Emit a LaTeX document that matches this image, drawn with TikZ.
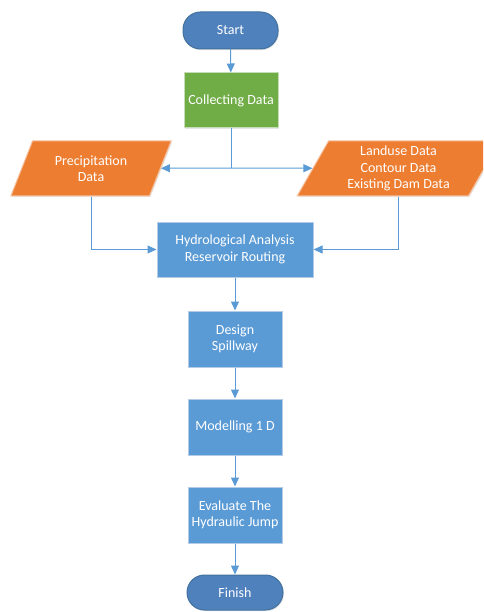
\documentclass[tikz,border=0pt]{standalone}
\usepackage{fontspec}
\setmainfont{Carlito}
\usetikzlibrary{shapes.geometric,arrows.meta,shadows}
\definecolor{startblue}{HTML}{4F81BD}
\definecolor{startedge}{HTML}{41719C}
\definecolor{procblue}{HTML}{5B9BD5}
\definecolor{procedge}{HTML}{B4CBE8}
\definecolor{greenbox}{HTML}{70AD47}
\definecolor{greenedge}{HTML}{C5DDB5}
\definecolor{orangebox}{HTML}{ED7D31}
\definecolor{orangeedge}{HTML}{F5C2A0}
\definecolor{arrowblue}{HTML}{5B9BD5}
\tikzset{
  base/.style={text=white, font=\fontsize{14}{16.5}\selectfont, align=center, inner sep=0pt, line width=1pt,
    drop shadow={opacity=0.2, shadow xshift=1pt, shadow yshift=-1.2pt}},
  terminal/.style={base, draw=startedge, fill=startblue, rounded corners=17.5pt},
  procbox/.style={base, draw=procedge, fill=procblue},
  greenproc/.style={base, draw=greenedge, fill=greenbox},
  datashape/.style={base, draw=orangeedge, fill=orangebox, trapezium, trapezium stretches=true,
    trapezium left angle=63, trapezium right angle=117},
  conn/.style={draw=arrowblue, line width=1pt, -{Triangle[length=9pt,width=8pt]}},
  plainconn/.style={draw=arrowblue, line width=1pt},
}
\begin{document}
\begin{tikzpicture}[x=1pt,y=-1pt]
\clip (0,0) rectangle (483,612);
\useasboundingbox (0,0) rectangle (483,612);
\node[terminal, minimum width=95pt, minimum height=37pt] (start) at (230.5,30.5) {Start};
\node[greenproc, minimum width=94pt, minimum height=55pt] (collect) at (231,100.5) {Collecting Data};
\coordinate (junc) at (231,168);
\node[datashape, minimum width=162pt, minimum height=55pt] (prec) at (91,168.5) {Precipitation\\Data};
\node[datashape, minimum width=203pt, minimum height=55pt] (land) at (398.5,168.5) {Landuse Data\\Contour Data\\Existing Dam Data};
\node[procbox, minimum width=156pt, minimum height=55pt] (hydro) at (235,249.5) {Hydrological Analysis\\Reservoir Routing};
\node[procbox, minimum width=94pt, minimum height=56pt] (design) at (235,339) {Design\\Spillway};
\node[procbox, minimum width=94pt, minimum height=56pt] (model) at (235,427) {Modelling 1 D};
\node[procbox, minimum width=94pt, minimum height=56pt] (eval) at (235,515) {Evaluate The\\Hydraulic Jump};
\node[terminal, minimum width=96pt, minimum height=35pt] (finish) at (235,592.5) {Finish};

\draw[conn] (start) -- (collect);
\draw[plainconn] (collect) -- (junc);
\draw[conn] (junc) -- (prec);
\draw[conn] (junc) -- (land);
\draw[conn] (prec.south) |- (hydro.west);
\draw[conn] (land.south) |- (hydro.east);
\draw[conn] (hydro) -- (design);
\draw[conn] (design) -- (model);
\draw[conn] (model) -- (eval);
\draw[conn] (eval) -- (finish);
\end{tikzpicture}
\end{document}
